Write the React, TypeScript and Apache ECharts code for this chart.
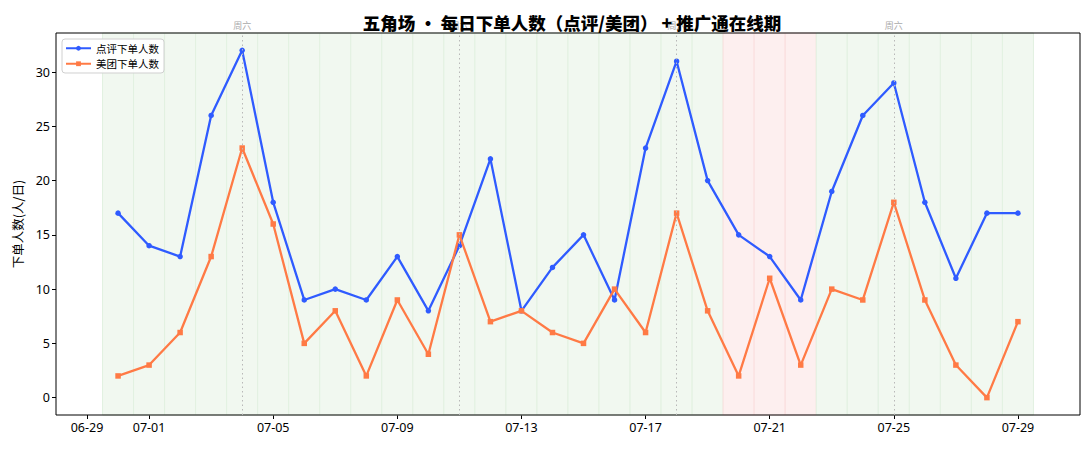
import React, { useEffect, useRef } from "react";
import * as echarts from "echarts";

// day index: 0 = 06-29
const dayIdx: number[] = [1,2,3,4,5,6,7,8,9,10,11,12,13,14,15,16,17,18,19,20,21,22,23,24,25,26,27,28,29,30];
const dianping: number[] = [17,14,13,26,32,18,9,10,9,13,8,14,22,8,12,15,9,23,31,20,15,13,9,19,26,29,18,11,17,17];
const meituan: number[] = [2,3,6,13,23,16,5,8,2,9,4,15,7,8,6,5,10,6,17,8,2,11,3,10,9,18,9,3,0,7];
// 1 = 推广通在线, 0 = 离线 (07-20 ~ 07-22)
const promoOnline: number[] = [1,1,1,1,1,1,1,1,1,1,1,1,1,1,1,1,1,1,1,1,0,0,0,1,1,1,1,1,1,1];
const saturdays: number[] = [5, 12, 19, 26];
const xTickValues: number[] = [0, 2, 6, 10, 14, 18, 22, 26, 30];
const yTickValues: number[] = [0, 5, 10, 15, 20, 25, 30];

const FONT = "'Noto Sans', 'Noto Sans CJK SC', sans-serif";
const CJK = "'Noto Sans CJK SC', sans-serif";

function fmtDay(d: number): string {
  const base = new Date(Date.UTC(2020, 5, 29));
  const t = new Date(base.getTime() + d * 86400000);
  const mm = String(t.getUTCMonth() + 1).padStart(2, "0");
  const dd = String(t.getUTCDate()).padStart(2, "0");
  return `${mm}-${dd}`;
}

export default function App() {
  const ref = useRef<HTMLDivElement>(null);
  useEffect(() => {
    document.body.style.margin = "0";
    if (!ref.current) return;
    const chart = echarts.init(ref.current, undefined, { renderer: "svg" });
    const areas = dayIdx.map((d, i) => {
      const on = promoOnline[i] === 1;
      return [
        {
          xAxis: d - 0.5,
          itemStyle: {
            color: on ? "#f1f8f0" : "#fdefef",
            borderColor: on ? "#e2f1e1" : "#fadede",
            borderWidth: 1,
          },
        },
        { xAxis: d + 0.5 },
      ];
    });
    chart.setOption({
      animation: false,
      textStyle: { fontFamily: FONT },
      title: {
        text: "五角场 · 每日下单人数（点评/美团） + 推广通在线期",
        left: 567,
        top: 9,
        textAlign: "center",
        textStyle: { fontSize: 17.5, fontWeight: 900, color: "#000", fontFamily: CJK },
      },
      legend: {
        data: ["点评下单人数", "美团下单人数"],
        orient: "vertical",
        left: 62,
        top: 39,
        backgroundColor: "rgba(255,255,255,0.9)",
        borderColor: "#d0d0d0",
        borderWidth: 1,
        borderRadius: 3,
        padding: [4, 5, 4, 3],
        itemGap: 5,
        itemWidth: 25,
        itemHeight: 6,
        textStyle: { fontSize: 10.5, color: "#000", fontFamily: CJK },
      },
      grid: {
        left: 56,
        right: 10,
        top: 33,
        bottom: 35,
        show: true,
        borderColor: "#000",
        borderWidth: 1,
        backgroundColor: "transparent",
        z: 5,
      },
      xAxis: {
        type: "value",
        min: -1,
        max: 32,
        splitLine: { show: false },
        axisLine: { show: false, onZero: false },
        axisTick: { show: true, length: 4, lineStyle: { color: "#000" }, customValues: xTickValues },
        axisLabel: {
          customValues: xTickValues,
          formatter: (v: number) => fmtDay(v),
          color: "#000",
          fontSize: 12.5,
          margin: 6,
          fontFamily: FONT,
        },
      },
      yAxis: {
        type: "value",
        min: -1.6,
        max: 33.6,
        name: "下单人数(人/日)",
        nameLocation: "middle",
        nameGap: 32,
        nameTextStyle: { fontSize: 12.5, color: "#000", fontFamily: CJK },
        splitLine: { show: false },
        axisLine: { show: false, onZero: false },
        axisTick: { show: true, length: 4, lineStyle: { color: "#000" }, customValues: yTickValues },
        axisLabel: {
          customValues: yTickValues,
          color: "#000",
          fontSize: 12.5,
          margin: 6,
          fontFamily: FONT,
        },
      },
      series: [
        {
          type: "line",
          name: "bg",
          data: [],
          silent: true,
          z: 0,
          markArea: { silent: true, data: areas },
          markLine: {
            silent: true,
            symbol: ["none", "none"],
            lineStyle: { color: "#b8b8b8", type: [1.5, 3], width: 1 },
            label: {
              show: true,
              position: "end",
              formatter: "周六",
              color: "#aaaaaa",
              fontSize: 9,
              distance: 3,
              fontFamily: CJK,
            },
            data: saturdays.map((d) => ({ xAxis: d })),
          },
        },
        {
          type: "line",
          name: "点评下单人数",
          data: dayIdx.map((d, i) => [d, dianping[i]]),
          symbol: "circle",
          symbolSize: 5.5,
          showAllSymbol: true,
          lineStyle: { width: 2.3, color: "#2f5bff" },
          itemStyle: { color: "#2f5bff" },
          z: 3,
        },
        {
          type: "line",
          name: "美团下单人数",
          data: dayIdx.map((d, i) => [d, meituan[i]]),
          symbol: "rect",
          symbolSize: 5.5,
          showAllSymbol: true,
          lineStyle: { width: 2.3, color: "#ff7a45" },
          itemStyle: { color: "#ff7a45" },
          z: 4,
        },
      ],
    });
    return () => chart.dispose();
  }, []);
  return <div ref={ref} style={{ width: 1090, height: 450 }} />;
}
